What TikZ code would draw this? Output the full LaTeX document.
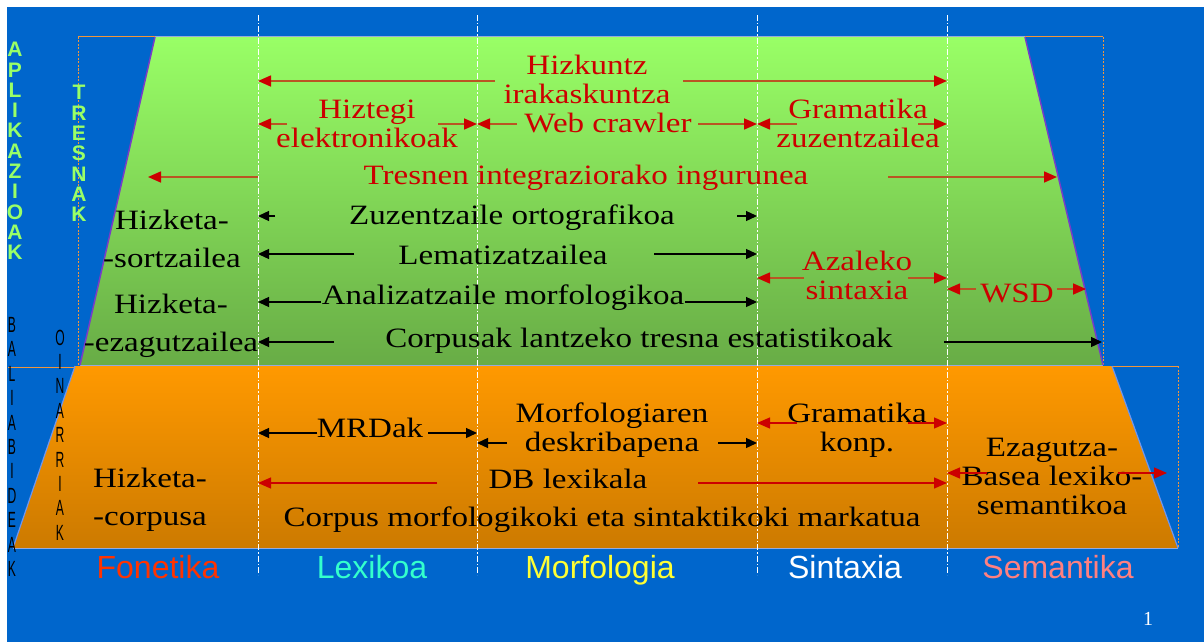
\documentclass[tikz,border=0pt]{standalone}
\usepackage{fontspec}
\setmainfont{Liberation Serif}
\newfontfamily\wideserif{Liberation Serif}[FakeStretch=1.18]
\newfontfamily\lblsans{Liberation Sans}
\newfontfamily\thinsans{Liberation Sans}[FakeStretch=0.55]
\usetikzlibrary{arrows.meta}

\definecolor{bgblue}{RGB}{0,102,204}
\definecolor{darkred}{RGB}{204,0,0}
\definecolor{lnred}{RGB}{185,85,35}
\definecolor{grtop}{RGB}{153,255,102}
\definecolor{grbot}{RGB}{104,172,70}
\definecolor{ortop}{RGB}{255,153,0}
\definecolor{orbot}{RGB}{204,122,0}
\definecolor{frameor}{RGB}{240,150,60}
\definecolor{edgeviol}{RGB}{120,60,200}
\definecolor{edgeblue}{RGB}{110,150,240}
\definecolor{seamcol}{RGB}{150,170,220}
\definecolor{fonred}{RGB}{255,51,0}
\definecolor{lexcyan}{RGB}{51,255,204}
\definecolor{morfyel}{RGB}{255,255,51}
\definecolor{sempink}{RGB}{255,128,128}

\tikzset{
  txt/.style={inner sep=0pt, align=center, font=\wideserif\fontsize{28}{29}\selectfont},
  redtxt/.style={txt, text=darkred},
  blktxt/.style={txt, text=black},
  twoline/.style={blktxt, font=\wideserif\fontsize{28}{38}\selectfont},
  rarr/.style={draw=lnred, line width=1.6pt, -{Triangle[length=13pt,width=11pt,color=darkred]}},
  rarro/.style={draw=darkred, line width=1.3pt, -{Triangle[length=13pt,width=11pt]}},
  barr/.style={draw=black, line width=1.3pt, -{Triangle[length=11pt,width=10pt]}},
  colline/.style={white, line width=1pt, dash pattern=on 6pt off 2pt on 1.5pt off 2pt},
  frameline/.style={draw=frameor, line width=1pt},
  vertgreen/.style={inner sep=0pt, align=center, text=grtop, font=\lblsans\bfseries\fontsize{21}{20.3}\selectfont},
  vertblack/.style={inner sep=0pt, align=center, text=black, font=\thinsans\fontsize{22}{24.4}\selectfont},
  fieldlbl/.style={inner sep=0pt, anchor=base, font=\lblsans\fontsize{32}{32}\selectfont},
}

\begin{document}
\begin{tikzpicture}[x=1pt,y=-1pt]
\useasboundingbox (0,0) rectangle (1204,642);
\fill[white] (0,0) rectangle (1204,642);
\fill[bgblue] (7,7) rectangle (1204,642);
\path
  (258,15) coordinate (c1)
  (477,15) coordinate (c2)
  (757,15) coordinate (c3)
  (947,15) coordinate (c4)
  ;
\draw[frameline] (155,37) -- (78,37);
\draw[frameline, dash pattern=on 2pt off 1.5pt] (78,37) -- (78,365);
\draw[frameline] (1025,37) -- (1103,37);
\draw[frameline, dash pattern=on 2pt off 1.5pt] (1103,37) -- (1103,365);
\draw[frameline] (8,367) -- (75,367);
\draw[frameline] (1102,366) -- (1178,366);
\draw[frameline, dash pattern=on 2pt off 1.5pt] (1178,366) -- (1178,548);

\shade[top color=grtop, bottom color=grbot] (155,37) -- (1025,37) -- (1103,365) -- (80,365) -- cycle;
\shade[top color=ortop, bottom color=orbot] (75,366) -- (1112,366) -- (1178,548) -- (13,548) -- cycle;
\draw[seamcol, line width=1pt] (155,37) -- (1025,37) (80,365) -- (1103,365);
\draw[edgeviol, line width=1.5pt] (155,37) -- (80,365) (1025,37) -- (1103,365);
\draw[edgeblue, line width=1.2pt] (75,366) -- (13,548) (1112,366) -- (1178,548);
\draw[seamcol, line width=1pt] (13,548) -- (1178,548);
\foreach \c in {c1,c2,c3,c4}
  \draw[colline] (\c) -- ++(0,560);

\node[vertgreen] (apl) at (15,151) {A\\P\\L\\I\\K\\A\\Z\\I\\O\\A\\K};
\node[vertgreen] (tre) at (79,153.5) {T\\R\\E\\S\\N\\A\\K};
\node[vertblack] (bal) at (12,447) {B\\A\\L\\I\\A\\B\\I\\D\\E\\A\\K};
\node[vertblack] (oin) at (60,435) {O\\I\\N\\A\\R\\R\\I\\A\\K};

\node[redtxt] (hizk) at (587,79) {Hizkuntz\\irakaskuntza};
\node[redtxt] (hizt) at (367,124) {Hiztegi\\elektronikoak};
\node[redtxt] (web) at (608,123) {Web crawler};
\node[redtxt] (gram) at (858,123) {Gramatika\\zuzentzailea};
\node[redtxt] (tres) at (586,178) {Tresnen integraziorako ingurunea};
\node[twoline] (hsor) at (172,239) {Hizketa-\\-sortzailea};
\node[blktxt] (zuz) at (512,218) {Zuzentzaile ortografikoa};
\node[blktxt] (lema) at (503,255) {Lematizatzailea};
\node[blktxt] (anal) at (503,298) {Analizatzaile morfologikoa};
\node[twoline] (hez) at (171,326) {Hizketa-\\-ezagutzailea};
\node[blktxt] (corp) at (639,341) {Corpusak lantzeko tresna estatistikoak};
\node[redtxt] (azal) at (857,275) {Azaleko\\sintaxia};
\node[redtxt] (wsd) at (1017,293) {WSD};

\node[blktxt] (mrd) at (370,428) {MRDak};
\node[blktxt] (morf) at (612,430) {Morfologiaren\\deskribapena};
\node[blktxt] (gkonp) at (857,430) {Gramatika\\konp.};
\node[twoline] (hcorp) at (150,500) {Hizketa-\\-corpusa};
\node[blktxt] (db) at (568,479) {DB lexikala};
\node[blktxt] (cmm) at (602,520) {Corpus morfologikoki eta sintaktikoki markatua};
\node[blktxt] (ezag) at (1052,476) {Ezagutza-\\Basea lexiko-\\semantikoa};

\foreach \n/\dx/\dy/\c in {hizk/-92/2/c1, hizk/96/2/c4, hizt/-80/0/c1, hizt/71/0/c2,
    web/-91/1/c2, web/90/1/c3, gram/-61/1/c3, gram/60/1/c4,
    azal/-53/3/c3, azal/51/3/c4, wsd/-41/-4/c4}
  \draw[rarr] (\n.center) ++(\dx,\dy) coordinate (p) -- (p -| \c);
\draw[rarr] (tres -| c1) ++(0,-1) -- ++(-110,0);
\draw[rarr] (tres.center) ++(302,-1) -- ++(169,0);
\draw[rarr] (wsd.center) ++(40,-4) -- ++(29,0);

\foreach \n/\dx/\dy/\c in {zuz/-237/-2/c1, zuz/225/-2/c3, lema/-149/-1/c1, lema/151/-1/c3,
    anal/-182/4/c1, anal/182/4/c3, corp/-305/1/c1,
    mrd/-53/5/c1, mrd/58/5/c2, morf/-105/13/c2, morf/106/13/c3}
  \draw[barr] (\n.center) ++(\dx,\dy) coordinate (p) -- (p -| \c);
\draw[barr] (corp.center) ++(305,1) -- ++(158,0);

\foreach \n/\dx/\dy/\c in {gkonp/-60/-7/c3, gkonp/51/-7/c4, db/-131/4/c1, db/130/4/c4,
    ezag/-65/-3/c4}
  \draw[rarro] (\n.center) ++(\dx,\dy) coordinate (p) -- (p -| \c);
\draw[rarro] (ezag.center) ++(66,-3) -- ++(49,0);

\node[fieldlbl, text=fonred] (fon) at (158,578) {Fonetika};
\node[fieldlbl, text=lexcyan] (lex) at (372,578) {Lexikoa};
\node[fieldlbl, text=morfyel] (mor) at (600,578) {Morfologia};
\node[fieldlbl, text=white] (sin) at (845,578) {Sintaxia};
\node[fieldlbl, text=sempink] (sem) at (1058,578) {Semantika};
\node[inner sep=0pt, text=white, font=\fontsize{20}{20}\selectfont] (pgnum) at (1148,619) {1};
\end{tikzpicture}
\end{document}
